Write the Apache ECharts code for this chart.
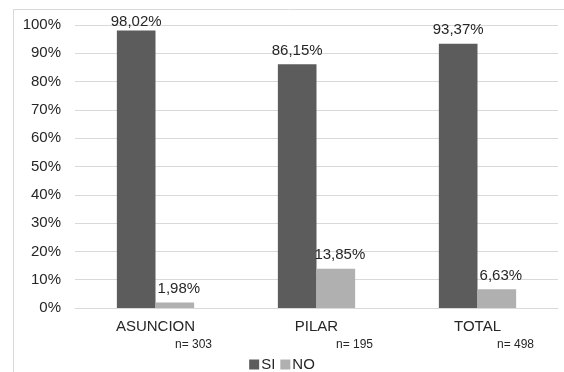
<!DOCTYPE html>
<html>
<head>
<meta charset="utf-8">
<script src="https://cdn.jsdelivr.net/npm/echarts@6/dist/echarts.min.js"></script>
<style>
  html, body { margin: 0; padding: 0; background: #ffffff; }
  #chart { width: 564px; height: 372px; }
</style>
</head>
<body>
<div id="chart"></div>
<script>
// Categories, sample sizes and percentages per answer
var categories = ['ASUNCION', 'PILAR', 'TOTAL'];
var sampleSizes = ['n= 303', 'n= 195', 'n= 498'];
var siValues = [98.02, 86.15, 93.37];
var noValues = [1.98, 13.85, 6.63];
var yTicks = [0, 10, 20, 30, 40, 50, 60, 70, 80, 90, 100];

var FONT = '"Liberation Sans", Arial, sans-serif';
var TEXT = '#262626';
var GRID = '#d9d9d9';

function pct(v) {
  return v.toFixed(2).replace('.', ',') + '%';
}

// Labels of bars reaching the top of the plot are pulled down so they stay inside it
function withLabelFit(values) {
  return values.map(function (v) {
    return v > 96 ? { value: v, label: { distance: 1 } } : v;
  });
}

var chart = echarts.init(document.getElementById('chart'), null, { renderer: 'canvas' });

chart.setOption({
  animation: false,
  backgroundColor: '#ffffff',
  textStyle: { fontFamily: FONT },
  grid: { left: 75, right: 6, top: 25, bottom: 64, containLabel: false },
  legend: {
    data: ['SI', 'NO'],
    left: 'center',
    top: 352,
    itemWidth: 10,
    itemHeight: 10,
    itemGap: 5,
    icon: 'rect',
    textStyle: { fontFamily: FONT, fontSize: 15, color: TEXT, padding: [0, 0, 0, -3] }
  },
  xAxis: [
    {
      type: 'category',
      data: categories,
      axisLine: { lineStyle: { color: GRID, width: 1 } },
      axisTick: { show: false },
      axisLabel: { fontFamily: FONT, fontSize: 15, color: TEXT, margin: 11 }
    },
    {
      type: 'category',
      data: sampleSizes,
      position: 'bottom',
      axisLine: { show: false },
      axisTick: { show: false },
      axisLabel: { fontFamily: FONT, fontSize: 12, color: TEXT, margin: 31, padding: [0, 0, 0, 76] }
    }
  ],
  yAxis: {
    type: 'value',
    min: yTicks[0],
    max: yTicks[yTicks.length - 1],
    interval: 10,
    axisLine: { show: false },
    axisTick: { show: false },
    splitLine: { lineStyle: { color: GRID, width: 1 } },
    axisLabel: {
      fontFamily: FONT, fontSize: 15, color: TEXT, margin: 14,
      formatter: function (v) { return v + '%'; }
    }
  },
  series: [
    {
      name: 'SI',
      type: 'bar',
      data: withLabelFit(siValues),
      barGap: '0%',
      barCategoryGap: '52%',
      itemStyle: { color: '#5c5c5c' },
      label: {
        show: true, position: 'top', distance: 6,
        fontFamily: FONT, fontSize: 15, color: TEXT,
        formatter: function (p) { return pct(p.value); }
      }
    },
    {
      name: 'NO',
      type: 'bar',
      data: withLabelFit(noValues),
      itemStyle: { color: '#b0b0b0' },
      label: {
        show: true, position: 'top', distance: 6, offset: [4, 0],
        fontFamily: FONT, fontSize: 15, color: TEXT,
        formatter: function (p) { return pct(p.value); }
      }
    }
  ],
  graphic: [
    { type: 'line', shape: { x1: 13.5, y1: 9, x2: 13.5, y2: 372 }, style: { stroke: GRID, lineWidth: 1 }, silent: true },
    { type: 'line', shape: { x1: 13, y1: 9.5, x2: 564, y2: 9.5 }, style: { stroke: GRID, lineWidth: 1 }, silent: true }
  ]
});
</script>
</body>
</html>
